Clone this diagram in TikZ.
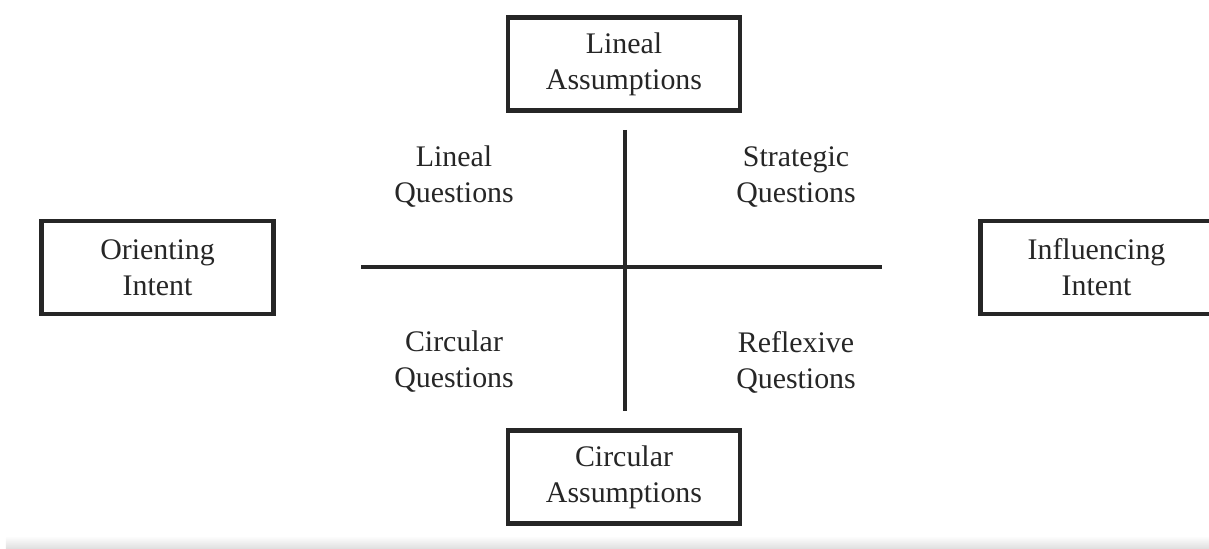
\documentclass[tikz,border=0pt]{standalone}
\usepackage{fontspec}
\setmainfont{Liberation Serif}
\tikzset{
  intentbox/.style={draw=black!85, line width=2.5pt, fill=white, minimum width=4.64cm, minimum height=1.86cm, align=center, font=\fontsize{17}{20.5}\selectfont, text=black!85, inner sep=0pt},
  quadlabel/.style={align=center, font=\fontsize{17}{20.5}\selectfont, text=black!85},
  stroke/.style={line width=2pt, draw=black!85},
}

\begin{document}
\begin{tikzpicture}
\useasboundingbox (0,0) rectangle (24.18,10.96);
\shade[top color=white, bottom color=black!12] (0.12,0) rectangle (24.18,0.24);
% assumption and intent boxes
\node[intentbox] (lineal) at (12.48,9.68) {Lineal\\Assumptions};
\node[intentbox] (circular) at (12.48,1.42) {Circular\\Assumptions};
\node[intentbox] (orienting) at (3.15,5.61) {Orienting\\Intent};
\node[intentbox] (influencing) at (21.93,5.61) {Influencing\\Intent};
% the cross
\coordinate (up) at (12.50,8.36);
\coordinate (down) at (12.50,2.74);
\coordinate (left) at (7.22,5.62);
\coordinate (right) at (17.64,5.62);
\draw[stroke] (up) -- (down);
\draw[stroke] (left) -- (right);
% question types
\node[quadlabel] (linq) at (9.08,7.42) {Lineal\\Questions};
\node[quadlabel] (strq) at (15.92,7.42) {Strategic\\Questions};
\node[quadlabel] (cirq) at (9.08,3.72) {Circular\\Questions};
\node[quadlabel] (refq) at (15.92,3.72) {Reflexive\\Questions};
\end{tikzpicture}
\end{document}
